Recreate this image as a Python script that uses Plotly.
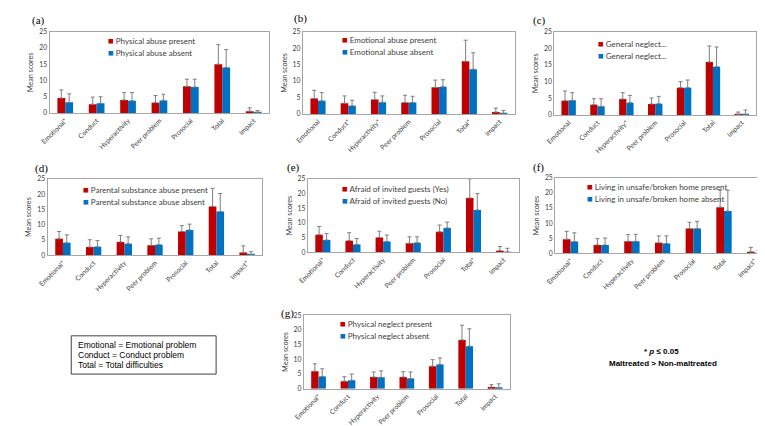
import plotly.graph_objects as go

W, H = 765, 426

# ---------------- data ----------------
labels_a = ["Emotional*", "Conduct", "Hyperactivity", "Peer problem", "Prosocial", "Total", "Impact"]
labels_b = ["Emotional", "Conduct*", "Hyperactivity*", "Peer problem", "Prosocial", "Total*", "Impact"]
labels_c = ["Emotional", "Conduct", "Hyperactivity*", "Peer problem", "Prosocial", "Total", "Impact"]
labels_d = ["Emotional*", "Conduct", "Hyperactivity", "Peer problem", "Prosocial", "Total", "Impact*"]
labels_e = ["Emotional*", "Conduct", "Hyperactivity", "Peer problem", "Prosocial", "Total*", "Impact"]
labels_f = ["Emotional*", "Conduct", "Hyperactivity", "Peer problem", "Prosocial", "Total", "Impact*"]
labels_g = ["Emotional*", "Conduct", "Hyperactivity", "Peer problem", "Prosocial", "Total", "Impact"]

names_a = ["Physical abuse present", "Physical abuse absent"]
names_b = ["Emotional abuse present", "Emotional abuse absent"]
names_c = ["General neglect...", "General neglect..."]
names_d = ["Parental substance abuse present", "Parental substance abuse absent"]
names_e = ["Afraid of invited guests (Yes)", "Afraid of invited guests (No)"]
names_f = ["Living in unsafe/broken home present", "Living in unsafe/broken home absent"]
names_g = ["Physical neglect present", "Physical neglect absent"]

mean_a_yes = [4.6, 2.7, 4.0, 3.2, 8.2, 15.0, 0.6]
sd_a_yes = [2.5, 2.2, 2.3, 2.2, 2.2, 6.0, 1.0]
mean_a_no = [3.3, 3.0, 3.8, 3.9, 8.0, 14.0, 0.2]
sd_a_no = [2.6, 2.0, 2.5, 1.9, 2.4, 5.5, 0.6]

mean_b_yes = [4.7, 3.3, 4.4, 3.5, 8.1, 16.0, 0.6]
sd_b_yes = [2.5, 2.2, 2.2, 2.2, 2.2, 6.4, 1.2]
mean_b_no = [4.0, 2.5, 3.6, 3.5, 8.3, 13.6, 0.2]
sd_b_no = [2.5, 1.7, 1.9, 1.9, 2.1, 5.0, 0.9]

mean_c_yes = [4.3, 3.1, 4.8, 3.3, 8.2, 15.9, 0.2]
sd_c_yes = [2.9, 1.8, 1.9, 1.8, 1.8, 4.8, 0.7]
mean_c_no = [4.4, 2.6, 3.7, 3.4, 8.2, 14.5, 0.2]
sd_c_no = [2.3, 2.3, 2.2, 2.2, 2.3, 5.9, 1.3]

mean_d_yes = [5.4, 2.7, 4.4, 3.3, 7.8, 16.0, 0.9]
sd_d_yes = [2.4, 2.4, 2.1, 2.1, 1.9, 5.9, 2.2]
mean_d_no = [4.1, 2.8, 3.8, 3.5, 8.3, 14.3, 0.2]
sd_d_no = [2.6, 2.0, 2.2, 2.1, 1.9, 5.9, 1.0]

mean_e_yes = [6.0, 4.0, 5.1, 3.1, 7.0, 18.5, 0.6]
sd_e_yes = [2.8, 2.7, 2.1, 2.2, 2.3, 6.5, 1.4]
mean_e_no = [4.2, 2.7, 3.7, 3.3, 8.3, 14.4, 0.2]
sd_e_no = [2.2, 2.0, 2.2, 2.0, 2.0, 5.6, 1.2]

mean_f_yes = [4.7, 2.8, 4.0, 3.5, 8.2, 15.3, 0.5]
sd_f_yes = [2.6, 2.1, 2.2, 2.3, 2.1, 5.6, 1.5]
mean_f_no = [3.9, 2.8, 4.0, 3.3, 8.2, 14.0, 0.1]
sd_f_no = [2.9, 2.3, 2.3, 2.5, 2.4, 6.9, 0.9]

mean_g_yes = [6.0, 2.6, 4.0, 4.0, 7.7, 16.6, 0.6]
sd_g_yes = [2.5, 1.5, 1.7, 1.8, 2.2, 5.0, 0.8]
mean_g_no = [4.2, 2.9, 3.9, 3.5, 8.3, 14.5, 0.3]
sd_g_no = [2.6, 2.1, 2.2, 2.2, 2.2, 5.9, 1.4]

y_ticks = [0, 5, 10, 15, 20, 25]

panels = [
    ("(a)", labels_a, names_a, mean_a_yes, sd_a_yes, mean_a_no, sd_a_no),
    ("(b)", labels_b, names_b, mean_b_yes, sd_b_yes, mean_b_no, sd_b_no),
    ("(c)", labels_c, names_c, mean_c_yes, sd_c_yes, mean_c_no, sd_c_no),
    ("(d)", labels_d, names_d, mean_d_yes, sd_d_yes, mean_d_no, sd_d_no),
    ("(e)", labels_e, names_e, mean_e_yes, sd_e_yes, mean_e_no, sd_e_no),
    ("(f)", labels_f, names_f, mean_f_yes, sd_f_yes, mean_f_no, sd_f_no),
    ("(g)", labels_g, names_g, mean_g_yes, sd_g_yes, mean_g_no, sd_g_no),
]

# ---------------- layout geometry (pixels) ----------------
boxes = [
    (31, 254, 19, 102),
    (288, 503, 19, 103),
    (543, 748, 19, 104),
    (29, 247, 169, 247),
    (293, 507, 169, 244),
    (544, 762, 168, 245),
    (289, 498, 308, 383),
]
label_pos = [(11, 8), (277, 6), (519, 8), (14, 158), (270, 157), (519, 157), (264, 306)]
legend_pos = [(88, 28, 12.5), (326, 27, 12.5), (585, 31, 12.5), (63, 180, 12.5),
              (326, 179, 12.5), (574, 177, 12.5), (324, 316, 12.5)]

RED = "#C00000"
BLUE = "#0070C0"
ERR = "#7F7F7F"
TICKFONT = dict(family="Lato, Open Sans, sans-serif", size=6.8, color="#404040")

fig = go.Figure()
layout = dict(
    width=W, height=H, autosize=False,
    margin=dict(l=0, r=0, t=0, b=0),
    paper_bgcolor="white", plot_bgcolor="white",
    barmode="group", bargap=0.5, bargroupgap=0.0,
    showlegend=False,
)
annotations = []
shapes = []

def px(x):
    return x / W

def py(y):
    return 1 - y / H

for i, (tag, labels, names, m1, s1, m2, s2) in enumerate(panels):
    k = "" if i == 0 else str(i + 1)
    xa, ya = "x" + k, "y" + k
    x0, x1, yt, yb = boxes[i]
    for name, m, s, col in ((names[0], m1, s1, RED), (names[1], m2, s2, BLUE)):
        fig.add_trace(go.Bar(
            x=labels, y=m, name=name, marker=dict(color=col, line=dict(width=0)),
            error_y=dict(type="data", array=s, arrayminus=[0] * len(s), symmetric=False,
                         color=ERR, thickness=1, width=2),
            offsetgroup=name + str(col), xaxis=xa, yaxis=ya,
        ))
    layout["xaxis" + k] = dict(
        domain=[px(x0), px(x1)], anchor=ya, type="category",
        showline=True, mirror=True, linecolor="#A6A6A6", linewidth=1,
        showgrid=False, ticks="", tickangle=-45, tickfont=TICKFONT, fixedrange=True,
    )
    layout["yaxis" + k] = dict(
        domain=[py(yb), py(yt)], anchor=xa, range=[0, 25], tickvals=y_ticks,
        showline=True, mirror=True, linecolor="#A6A6A6", linewidth=1,
        showgrid=False, ticks="", tickfont=TICKFONT, zeroline=False,
        title=dict(text="Mean scores", font=dict(family="Lato, Open Sans, sans-serif", size=7.2, color="#404040"), standoff=4),
        fixedrange=True,
    )
    lx, ly = label_pos[i]
    annotations.append(dict(
        text=tag, x=px(lx), y=py(ly), xref="paper", yref="paper",
        xanchor="left", yanchor="middle", showarrow=False,
        font=dict(family="Liberation Serif, Times New Roman, serif", size=11, color="#000000"),
    ))
    gx, gy, gap = legend_pos[i]
    for j, (name, col) in enumerate(((names[0], RED), (names[1], BLUE))):
        annotations.append(dict(
            text=f"<span style='color:{col};font-size:9.5px'>■</span> {name}",
            x=px(gx), y=py(gy + j * gap), xref="paper", yref="paper",
            xanchor="left", yanchor="middle", showarrow=False,
            font=dict(family="Lato, Open Sans, sans-serif", size=8, color="#404040"),
        ))

shapes.append(dict(type="rect", xref="paper", yref="paper",
                   x0=px(53), x1=px(200), y0=py(368), y1=py(329),
                   line=dict(color="#404040", width=1), fillcolor="white"))
abbrev = ["Emotional = Emotional problem", "Conduct = Conduct problem", "Total = Total difficulties"]
for j, t in enumerate(abbrev):
    annotations.append(dict(
        text=t, x=px(58), y=py(338 + j * 10.5), xref="paper", yref="paper",
        xanchor="left", yanchor="middle", showarrow=False,
        font=dict(family="Liberation Sans, Arial, sans-serif", size=8.5, color="#000000"),
    ))

annotations.append(dict(
    text="<b>* <i>p</i> ≤ 0.05</b>", x=px(652), y=py(345), xref="paper", yref="paper",
    xanchor="center", yanchor="middle", showarrow=False,
    font=dict(family="Liberation Sans, Arial, sans-serif", size=8, color="#000000"),
))
annotations.append(dict(
    text="<b>Maltreated > Non-maltreated</b>", x=px(653), y=py(357), xref="paper", yref="paper",
    xanchor="center", yanchor="middle", showarrow=False,
    font=dict(family="Liberation Sans, Arial, sans-serif", size=8, color="#000000"),
))

layout["annotations"] = annotations
layout["shapes"] = shapes
fig.update_layout(**layout)

fig.write_html("out.html", config={"displayModeBar": False})
